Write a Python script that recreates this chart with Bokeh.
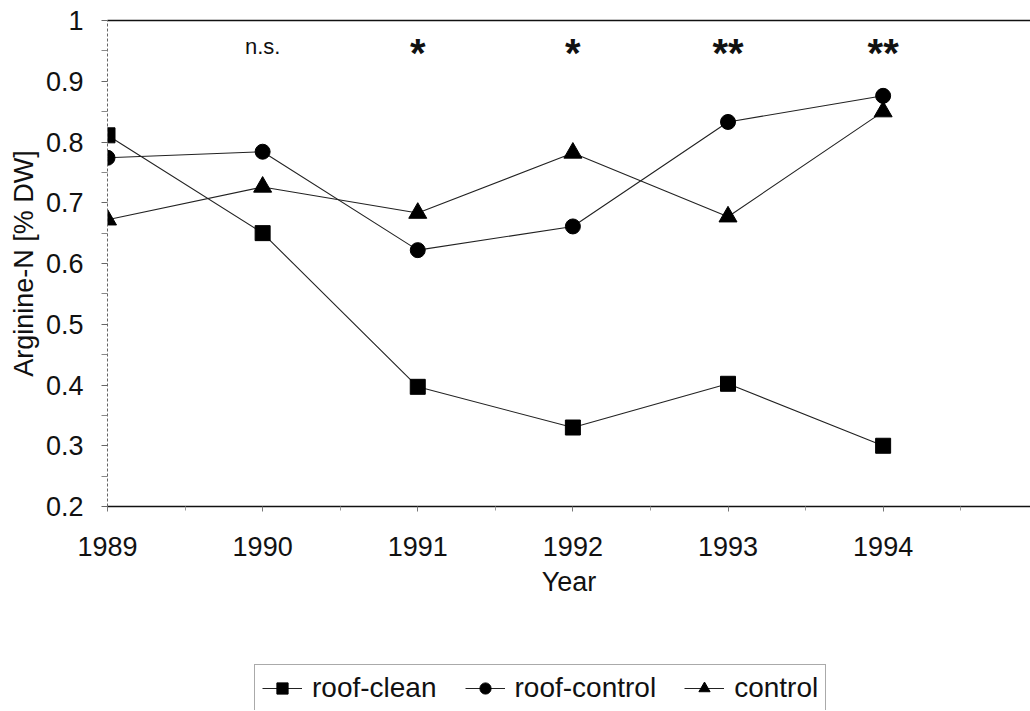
from bokeh.plotting import figure
from bokeh.layouts import column
from bokeh.models import (Range1d, FixedTicker, CustomJSTickFormatter, LinearAxis,
                          Legend, LegendItem)
from bokeh.core.properties import value
from bokeh.embed import file_html
from bokeh.resources import INLINE

# ---- data ----
years = [1989, 1990, 1991, 1992, 1993, 1994]
roof_clean = [0.811, 0.650, 0.397, 0.330, 0.402, 0.300]
roof_control = [0.774, 0.784, 0.622, 0.661, 0.833, 0.876]
control = [0.672, 0.726, 0.683, 0.782, 0.677, 0.850]

sig_years = [1990, 1991, 1992, 1993, 1994]
sig_labels = ["n.s.", "*", "*", "**", "**"]
sig_level = 0.955

y_ticks = [0.2, 0.3, 0.4, 0.5, 0.6, 0.7, 0.8, 0.9, 1.0]
x_ticks = years
series_names = ["roof-clean", "roof-control", "control"]

FONT = "Liberation Sans"

p = figure(width=1030, height=610, output_backend="svg", toolbar_location=None,
           x_range=Range1d(1989, 1994.95), y_range=Range1d(0.2, 1.0),
           min_border_left=107, min_border_right=0, min_border_top=20,
           min_border_bottom=104)
p.outline_line_color = None
p.grid.visible = False

xa = p.below[0]
ya = p.left[0]

# top frame line (no ticks)
top_axis = LinearAxis(ticker=FixedTicker(ticks=[]), major_tick_out=0, minor_tick_out=0,
                      major_label_standoff=0,
                      axis_line_color="#111", axis_line_width=1.6)
p.add_layout(top_axis, "above")

# y axis
ya.ticker = FixedTicker(ticks=y_ticks,
                        minor_ticks=[t + 0.05 for t in y_ticks[:-1]])
ya.formatter = CustomJSTickFormatter(code="return tick > 0.999 ? '1' : tick.toFixed(1);")
ya.axis_label = "Arginine-N [% DW]"
ya.axis_label_text_font = FONT
ya.axis_label_text_font_style = "normal"
ya.axis_label_text_font_size = "27px"
ya.axis_label_text_color = "#111"
ya.axis_label_standoff = 4
ya.major_label_text_font = FONT
ya.major_label_text_font_size = "27px"
ya.major_label_text_color = "#111"
ya.major_label_standoff = 18
ya.axis_line_color = "#666"
ya.axis_line_dash = "3 2"
ya.axis_line_width = 1
ya.major_tick_out = 6
ya.major_tick_in = 0
ya.minor_tick_out = 6
ya.minor_tick_in = 0
ya.major_tick_line_color = "#666"
ya.minor_tick_line_color = "#888"

# x axis
xa.ticker = FixedTicker(ticks=x_ticks, minor_ticks=[t + 0.5 for t in x_ticks])
xa.axis_label = "Year"
xa.axis_label_text_font = FONT
xa.axis_label_text_font_style = "normal"
xa.axis_label_text_font_size = "27px"
xa.axis_label_text_color = "#111"
xa.axis_label_standoff = 8
xa.major_label_text_font = FONT
xa.major_label_text_font_size = "27px"
xa.major_label_text_color = "#111"
xa.major_label_standoff = 25
xa.axis_line_color = "#111"
xa.axis_line_width = 1.6
xa.major_tick_out = 5
xa.major_tick_in = 0
xa.minor_tick_out = 4
xa.minor_tick_in = 0
xa.major_tick_line_color = "#777"
xa.minor_tick_line_color = "#999"

# series
series = [roof_clean, roof_control, control]
markers = [("square", 15), ("circle", 15), ("triangle", 18)]
for vals, (mk, sz) in zip(series, markers):
    p.line(years, vals, line_color="#222", line_width=1.1)
    p.scatter(years, vals, marker=mk, size=sz, fill_color="black", line_color="black")

# significance labels
ns_x = [x for x, s in zip(sig_years, sig_labels) if s == "n.s."]
ns_t = [s for s in sig_labels if s == "n.s."]
st_x = [x for x, s in zip(sig_years, sig_labels) if s != "n.s."]
st_t = [s for s in sig_labels if s != "n.s."]
p.text(ns_x, [sig_level] * len(ns_x), text=ns_t, text_font=value(FONT),
       text_font_size="22px", text_align="center", text_baseline="alphabetic",
       y_offset=-1, text_color="#111")
p.text(st_x, [sig_level] * len(st_x), text=st_t, text_font=value(FONT),
       text_font_size="40px", text_font_style="bold", text_align="center",
       text_baseline="alphabetic", y_offset=5, text_color="#111")

# ---- legend panel (separate figure, same series; data lies outside its view) ----
p2 = figure(width=1030, height=100, output_backend="svg", toolbar_location=None,
            x_range=Range1d(0, 1), y_range=Range1d(0, 1),
            x_axis_type=None, y_axis_type=None,
            min_border_left=0, min_border_right=0, min_border_top=0, min_border_bottom=0)
p2.outline_line_color = None
p2.grid.visible = False
items = []
for name, vals, (mk, sz) in zip(series_names, series, markers):
    lr = p2.line(years, vals, line_color="#222", line_width=1.1)
    mr = p2.scatter(years, vals, marker=mk, size=sz, fill_color="black", line_color="black")
    items.append(LegendItem(label=name, renderers=[lr, mr]))

legend = Legend(items=items, orientation="horizontal", location=(147, -2))
legend.label_text_font = FONT
legend.label_text_font_size = "28px"
legend.label_text_color = "#111"
legend.padding = 7
legend.spacing = 28
legend.glyph_width = 40
legend.glyph_height = 28
legend.label_height = 28
legend.label_standoff = 10
legend.margin = 0
legend.border_line_color = "#555"
legend.border_line_width = 1
legend.background_fill_alpha = 0
p2.add_layout(legend, "center")

layout = column(p, p2, spacing=0)
open("out.html", "w").write(file_html(layout, INLINE))
